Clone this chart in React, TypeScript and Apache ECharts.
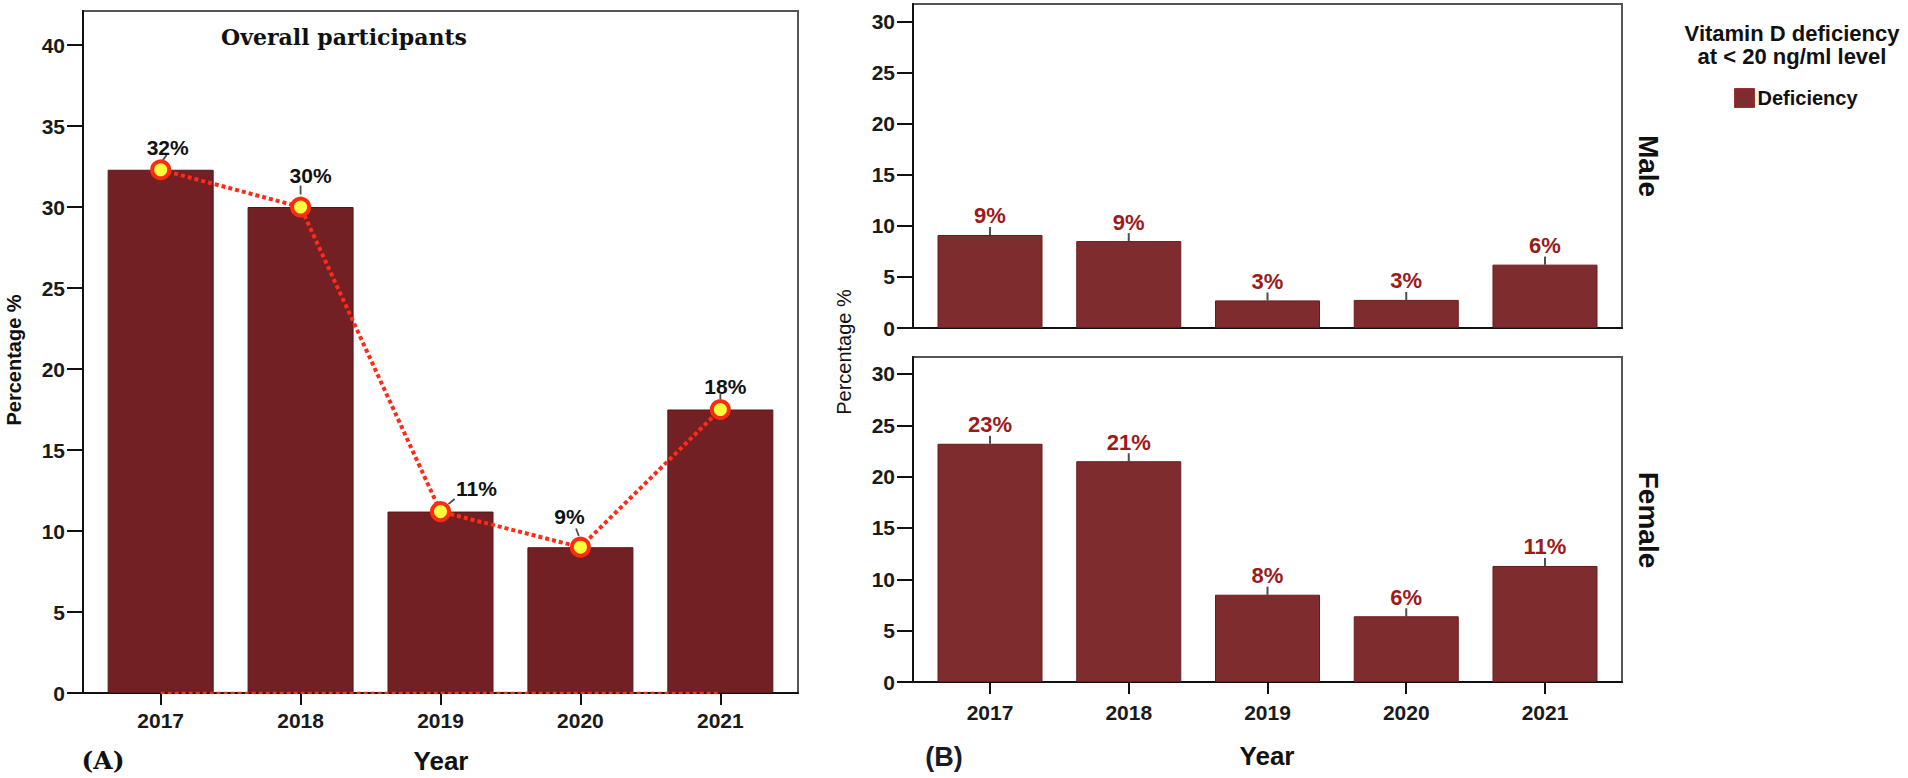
import React, { useEffect, useRef } from "react";
import * as echarts from "echarts";

const years = ["2017", "2018", "2019", "2020", "2021"];
const overall = [32.3, 30.0, 11.2, 9.0, 17.5];
const overallLabels = ["32%", "30%", "11%", "9%", "18%"];
const zeroLine = [0, 0, 0, 0, 0];
const male = [9.1, 8.5, 2.7, 2.75, 6.2];
const maleLabels = ["9%", "9%", "3%", "3%", "6%"];
const female = [23.2, 21.5, 8.5, 6.4, 11.3];
const femaleLabels = ["23%", "21%", "8%", "6%", "11%"];
const ticksA = [0, 5, 10, 15, 20, 25, 30, 35, 40];
const ticksB = [0, 5, 10, 15, 20, 25, 30];
const xTicks = [0, 1, 2, 3, 4];

const SANS = "'Liberation Sans', Arial, sans-serif";
const SERIF = "'DejaVu Serif', serif";

// label offsets for panel A (pixels relative to point)
const labelOffsetsA = [
  [7, -22],
  [10, -32],
  [36, -23],
  [-11, -31],
  [5, -23],
];
const stubA = [
  { off: [4, -12], rot: -35, len: 7 },
  { off: [0, -17], rot: 0, len: 9 },
  { off: [11, -10], rot: -50, len: 8 },
  { off: [-3, -15], rot: 20, len: 8 },
  { off: [0, -13], rot: 0, len: 5 },
];

function xAxisCfg(gridIndex: number, showLabels: boolean, margin: number) {
  return {
    type: "value",
    gridIndex,
    min: -0.555,
    max: 4.555,
    splitLine: { show: false },
    axisLine: { show: true, onZero: false, lineStyle: { color: "#111", width: 2 } },
    axisTick: {
      show: showLabels,
      customValues: xTicks,
      length: 12,
      lineStyle: { color: "#111", width: 2 },
    },
    axisLabel: {
      show: showLabels,
      customValues: xTicks,
      margin,
      fontSize: 21,
      fontWeight: "bold",
      fontFamily: SANS,
      color: "#1a1a1a",
      formatter: (v: number) => years[Math.round(v)] ?? "",
    },
  };
}

function yAxisCfg(gridIndex: number, max: number, ticks: number[]) {
  return {
    type: "value",
    gridIndex,
    min: 0,
    max,
    splitLine: { show: false },
    axisLine: { show: true, onZero: false, lineStyle: { color: "#111", width: 2 } },
    axisTick: {
      show: true,
      customValues: ticks,
      length: 16,
      lineStyle: { color: "#111", width: 2 },
    },
    axisLabel: {
      customValues: ticks,
      margin: 18,
      fontSize: 21,
      fontWeight: "bold",
      fontFamily: SANS,
      color: "#1a1a1a",
    },
  };
}

export default function App() {
  const ref = useRef<HTMLDivElement>(null);

  useEffect(() => {
    document.body.style.margin = "0";
    if (!ref.current) return;
    const chart = echarts.init(ref.current, undefined, { renderer: "svg" });

    const gridStyle = { show: true, borderColor: "#555", borderWidth: 2, backgroundColor: "#fff" };

    const option: any = {
      animation: false,
      backgroundColor: "#fff",
      grid: [
        { left: 83, top: 11, width: 715, height: 682, ...gridStyle },
        { left: 913, top: 4, width: 709, height: 324, ...gridStyle },
        { left: 913, top: 357, width: 709, height: 325, ...gridStyle },
      ],
      xAxis: [xAxisCfg(0, true, 17), xAxisCfg(1, false, 10), xAxisCfg(2, true, 20)],
      yAxis: [yAxisCfg(0, 42.1, ticksA), yAxisCfg(1, 31.7, ticksB), yAxisCfg(2, 31.65, ticksB)],
      legend: {
        left: 1729,
        top: 83,
        itemWidth: 20,
        itemHeight: 19,
        itemGap: 4,
        selectedMode: false,
        textStyle: { fontFamily: SANS, fontWeight: "bold", fontSize: 20, color: "#111", padding: [0, 0, 0, -2] },
        data: [
          {
            name: "Deficiency",
            icon: "rect",
            itemStyle: { color: "#7f2c2e", borderColor: "#a03030", borderWidth: 1 },
          },
        ],
      },
      graphic: [
        {
          type: "text",
          x: 344,
          y: 37,
          style: {
            text: "Overall participants",
            font: `bold 22px ${SERIF}`,
            fill: "#111",
            align: "center",
            verticalAlign: "middle",
          },
        },
        {
          type: "text",
          x: 14,
          y: 360,
          rotation: Math.PI / 2,
          style: {
            text: "Percentage %",
            font: `bold 20px ${SANS}`,
            fill: "#111",
            align: "center",
            verticalAlign: "middle",
          },
        },
        {
          type: "text",
          x: 441,
          y: 761,
          style: { text: "Year", font: `bold 26px ${SANS}`, fill: "#111", align: "center", verticalAlign: "middle" },
        },
        {
          type: "text",
          x: 103,
          y: 760,
          style: { text: "(A)", font: `bold 25px ${SERIF}`, fill: "#111", align: "center", verticalAlign: "middle" },
        },
        {
          type: "text",
          x: 844,
          y: 352,
          rotation: Math.PI / 2,
          style: {
            text: "Percentage %",
            font: `20px ${SANS}`,
            fill: "#111",
            align: "center",
            verticalAlign: "middle",
          },
        },
        {
          type: "text",
          x: 1267,
          y: 756,
          style: { text: "Year", font: `bold 26px ${SANS}`, fill: "#111", align: "center", verticalAlign: "middle" },
        },
        {
          type: "text",
          x: 944,
          y: 757,
          style: { text: "(B)", font: `bold 27px ${SANS}`, fill: "#1a1a2a", align: "center", verticalAlign: "middle" },
        },
        {
          type: "text",
          x: 1648,
          y: 166,
          rotation: -Math.PI / 2,
          style: { text: "Male", font: `bold 28px ${SANS}`, fill: "#111", align: "center", verticalAlign: "middle" },
        },
        {
          type: "text",
          x: 1648,
          y: 520,
          rotation: -Math.PI / 2,
          style: { text: "Female", font: `bold 28px ${SANS}`, fill: "#111", align: "center", verticalAlign: "middle" },
        },
        {
          type: "text",
          x: 1792,
          y: 33,
          style: {
            text: "Vitamin D deficiency",
            font: `bold 22px ${SANS}`,
            fill: "#111",
            align: "center",
            verticalAlign: "middle",
          },
        },
        {
          type: "text",
          x: 1792,
          y: 56,
          style: {
            text: "at < 20 ng/ml level",
            font: `bold 22px ${SANS}`,
            fill: "#111",
            align: "center",
            verticalAlign: "middle",
          },
        },
      ],
      series: [
        {
          name: "Deficiency",
          type: "bar",
          xAxisIndex: 1,
          yAxisIndex: 1,
          barWidth: 105,
          data: male.map((v, i) => [i, v]),
          itemStyle: { color: "#7f2c2e", borderColor: "#6a1a1d", borderWidth: 1 },
          label: {
            show: true,
            position: "top",
            distance: 8,
            fontFamily: SANS,
            fontWeight: "bold",
            fontSize: 22,
            color: "#9c1a1a",
            formatter: (p: any) => maleLabels[p.dataIndex],
          },
        },
        {
          name: "Deficiency",
          type: "bar",
          xAxisIndex: 2,
          yAxisIndex: 2,
          barWidth: 105,
          data: female.map((v, i) => [i, v]),
          itemStyle: { color: "#7f2c2e", borderColor: "#6a1a1d", borderWidth: 1 },
          label: {
            show: true,
            position: "top",
            distance: 8,
            fontFamily: SANS,
            fontWeight: "bold",
            fontSize: 22,
            color: "#9c1a1a",
            formatter: (p: any) => femaleLabels[p.dataIndex],
          },
        },
        {
          name: "stubM",
          type: "scatter",
          xAxisIndex: 1,
          yAxisIndex: 1,
          symbol: "rect",
          symbolSize: [2, 8],
          symbolOffset: [0, -4],
          itemStyle: { color: "#222" },
          data: male.map((v, i) => [i, v]),
          z: 5,
        },
        {
          name: "stubF",
          type: "scatter",
          xAxisIndex: 2,
          yAxisIndex: 2,
          symbol: "rect",
          symbolSize: [2, 8],
          symbolOffset: [0, -4],
          itemStyle: { color: "#222" },
          data: female.map((v, i) => [i, v]),
          z: 5,
        },
        {
          name: "Overall",
          type: "bar",
          xAxisIndex: 0,
          yAxisIndex: 0,
          barWidth: 106,
          data: overall.map((v, i) => [i, v]),
          itemStyle: { color: "#722024", borderColor: "#5a1518", borderWidth: 1 },
        },
        {
          name: "zero",
          type: "line",
          xAxisIndex: 0,
          yAxisIndex: 0,
          symbol: "none",
          data: zeroLine.map((v, i) => [i, v]),
          lineStyle: { color: "#e8361c", width: 2.5, type: [4, 3] },
          z: 6,
        },
        {
          name: "stubA",
          type: "scatter",
          xAxisIndex: 0,
          yAxisIndex: 0,
          symbol: "rect",
          itemStyle: { color: "#222" },
          data: overall.map((v, i) => ({
            value: [i, v],
            symbolSize: [1.8, stubA[i].len],
            symbolOffset: stubA[i].off,
            symbolRotate: stubA[i].rot,
          })),
          z: 6,
        },
        {
          name: "trend",
          type: "line",
          xAxisIndex: 0,
          yAxisIndex: 0,
          data: overall.map((v, i) => ({
            value: [i, v],
            label: {
              show: true,
              position: "inside",
              offset: labelOffsetsA[i],
              formatter: overallLabels[i],
              fontFamily: SANS,
              fontWeight: "bold",
              fontSize: 21,
              color: "#111",
            },
          })),
          lineStyle: { color: "#ff2b16", width: 4, type: [4, 3] },
          symbol: "circle",
          symbolSize: 17,
          itemStyle: { color: "#ffff3c", borderColor: "#ff2b10", borderWidth: 4 },
          z: 10,
        },
      ],
    };

    chart.setOption(option);
    return () => chart.dispose();
  }, []);

  return <div ref={ref} style={{ width: 1908, height: 778 }} />;
}
